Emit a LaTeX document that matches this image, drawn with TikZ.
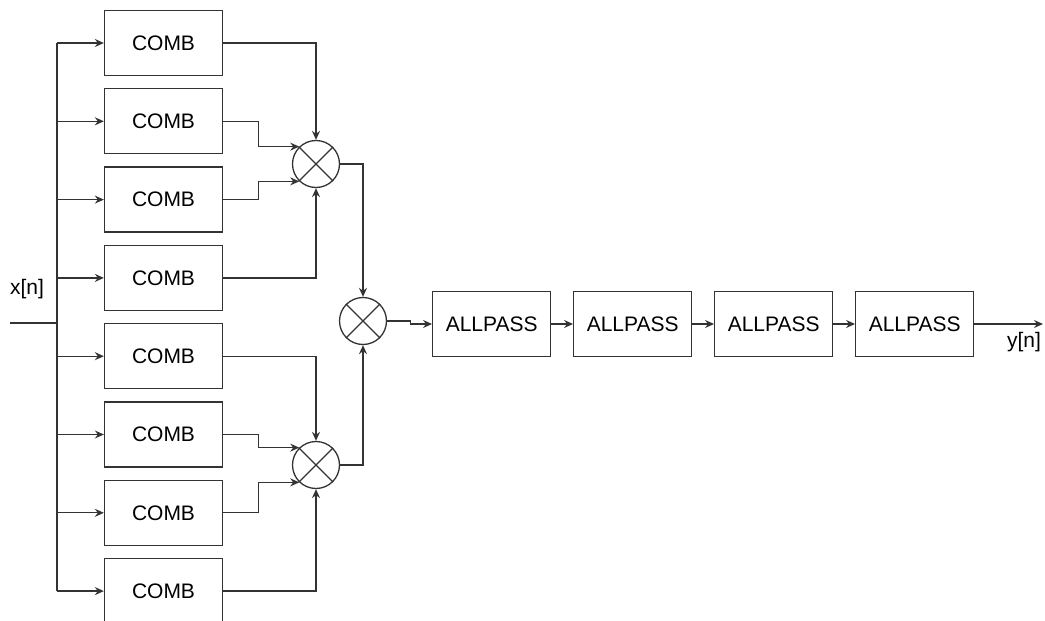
\documentclass[tikz,border=0pt]{standalone}
\usepackage{fontspec}
\setmainfont{Liberation Sans}
\usetikzlibrary{arrows.meta,calc}
\definecolor{linegray}{HTML}{333333}
\tikzset{
	block/.style={draw=linegray, line width=0.65pt, minimum width=59pt, minimum height=32.5pt,
			font=\fontsize{10.5}{12}\selectfont},
	mixer/.style={draw=linegray, line width=0.65pt, circle, minimum size=23.5pt, inner sep=0pt},
	sig/.style={draw=linegray, line width=0.65pt, -{Stealth[length=4.5pt,width=4pt,inset=1.5pt]}},
	wire/.style={draw=linegray, line width=0.65pt}
}

\begin{document}
\begin{tikzpicture}[x=0.5pt, y=-0.5pt]
		\useasboundingbox (0,0) rectangle (1045,621);
		% comb filters
		\node[block] (c1) at (163.5,43) {COMB};
		\node[block] (c2) at (163.5,121.3) {COMB};
		\node[block] (c3) at (163.5,199.6) {COMB};
		\node[block] (c4) at (163.5,277.9) {COMB};
		\node[block] (c5) at (163.5,356.2) {COMB};
		\node[block] (c6) at (163.5,434.5) {COMB};
		\node[block] (c7) at (163.5,512.8) {COMB};
		\node[block] (c8) at (163.5,591.1) {COMB};
		% mixers
		\node[mixer] (m1) at (316,164) {};
		\node[mixer] (m2) at (363,321) {};
		\node[mixer] (m3) at (316,465) {};
		\draw[wire] (m1.north west) -- (m1.south east) (m1.north east) -- (m1.south west);
		\draw[wire] (m2.north west) -- (m2.south east) (m2.north east) -- (m2.south west);
		\draw[wire] (m3.north west) -- (m3.south east) (m3.north east) -- (m3.south west);
		% allpass chain
		\node[block] (ap1) at (491.7,324) {ALLPASS};
		\node[block] (ap2) at (632.7,324) {ALLPASS};
		\node[block] (ap3) at (773.7,324) {ALLPASS};
		\node[block] (ap4) at (914.7,324) {ALLPASS};
		% input and bus
		\coordinate (xin) at (10,323);
		\coordinate (bus) at (57,323);
		\node[font=\fontsize{10.5}{12}\selectfont] (xlab) at (27,289) {x[n]};
		\draw[wire] (xin) -- (bus);
		\draw[wire] (bus |- c1.west) -- (bus |- c8.west);
		\draw[sig] (bus |- c1.west) -- (c1.west);
		\draw[sig] (bus |- c2.west) -- (c2.west);
		\draw[sig] (bus |- c3.west) -- (c3.west);
		\draw[sig] (bus |- c4.west) -- (c4.west);
		\draw[sig] (bus |- c5.west) -- (c5.west);
		\draw[sig] (bus |- c6.west) -- (c6.west);
		\draw[sig] (bus |- c7.west) -- (c7.west);
		\draw[sig] (bus |- c8.west) -- (c8.west);
		% combs into mixers
		\draw[sig] (c1.east) -| (m1.north);
		\draw[sig] (c2.east) -- ++(35,0) |- (m1.134);
		\draw[sig] (c3.east) -- ++(35,0) |- (m1.226);
		\draw[sig] (c4.east) -| (m1.south);
		\draw[sig] (c5.east) -| (m3.north);
		\draw[sig] (c6.east) -- ++(35,0) |- (m3.134);
		\draw[sig] (c7.east) -- ++(35,0) |- (m3.226);
		\draw[sig] (c8.east) -| (m3.south);
		\draw[sig] (m1.east) -| (m2.north);
		\draw[sig] (m3.east) -| (m2.south);
		\draw[sig] (m2.east) -- ++(23,0) |- (ap1.west);
		\draw[sig] (ap1.east) -- (ap2.west);
		\draw[sig] (ap2.east) -- (ap3.west);
		\draw[sig] (ap3.east) -- (ap4.west);
		% output
		\coordinate (yout) at (1043,324);
		\draw[sig] (ap4.east) -- (yout);
		\node[font=\fontsize{10.5}{12}\selectfont] (ylab) at (1024,342) {y[n]};
	\end{tikzpicture}
\end{document}
